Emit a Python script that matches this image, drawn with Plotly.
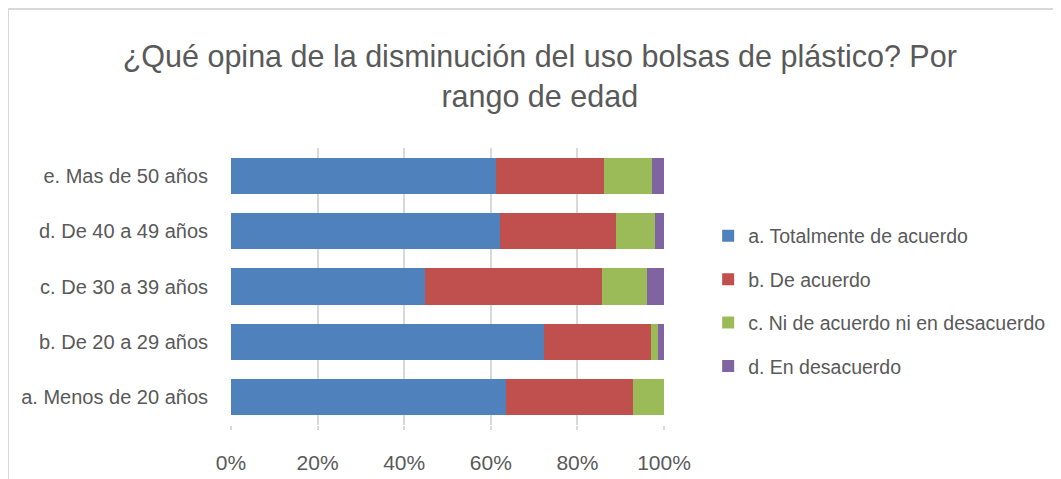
import plotly.graph_objects as go

categorias = [
    "a. Menos de 20 años",
    "b. De 20 a 29 años",
    "c. De 30 a 39 años",
    "d. De 40 a 49 años",
    "e. Mas de 50 años",
]

totalmente_de_acuerdo = [63.4, 72.3, 44.9, 62.2, 61.1]
de_acuerdo = [29.4, 24.7, 40.8, 26.7, 25.1]
ni_acuerdo_ni_desacuerdo = [7.2, 1.5, 10.4, 9.0, 11.1]
en_desacuerdo = [0.0, 1.5, 3.9, 2.1, 2.7]

series = [
    ("a. Totalmente de acuerdo", totalmente_de_acuerdo, "#4f81bd"),
    ("b. De acuerdo", de_acuerdo, "#c0504d"),
    ("c. Ni de acuerdo ni en desacuerdo", ni_acuerdo_ni_desacuerdo, "#9bbb59"),
    ("d. En desacuerdo", en_desacuerdo, "#8064a2"),
]

fuente = "Liberation Sans, Arial, sans-serif"
gris = "#595959"

# la pagina deja 8px de margen en el body
ancho, alto = 1053, 471
izq, arriba, ancho_plot, alto_plot = 223, 140, 433, 277

fig = go.Figure()

for nombre, valores, color in series:
    fig.add_trace(
        go.Bar(
            y=categorias,
            x=[v / 100 for v in valores],
            name=nombre,
            orientation="h",
            legendgroup=nombre,
            marker=dict(color=color, line=dict(width=0)),
        )
    )

fig.update_layout(
    width=ancho,
    height=alto,
    barmode="stack",
    bargap=0.35,
    paper_bgcolor="white",
    plot_bgcolor="white",
    font=dict(family=fuente, color=gris, size=20),
    title=dict(
        text="¿Qué opina de la disminución del uso bolsas de plástico? Por<br>rango de edad",
        x=0.505,
        xanchor="center",
        y=0.874,
        yanchor="middle",
        font=dict(family=fuente, size=30.5, color=gris),
    ),
    margin=dict(
        l=izq,
        r=ancho - izq - ancho_plot,
        t=arriba,
        b=alto - arriba - alto_plot,
        autoexpand=False,
    ),
    legend=dict(
        x=1.102,
        xanchor="left",
        y=0.447,
        yanchor="middle",
        traceorder="grouped",
        tracegroupgap=15,
        font=dict(family=fuente, size=19.5, color=gris),
        itemclick=False,
    ),
    shapes=[
        dict(
            type="rect",
            xref="paper",
            yref="paper",
            x0=(0 - izq) / ancho_plot,
            x1=(ancho + 20 - izq) / ancho_plot,
            y0=-0.4,
            y1=1 + (arriba - 1) / alto_plot,
            line=dict(color="#d9d9d9", width=2),
            fillcolor="rgba(0,0,0,0)",
            layer="below",
        )
    ],
)

fig.update_xaxes(
    range=[0, 1],
    tickformat=".0%",
    dtick=0.2,
    showgrid=True,
    gridcolor="#d9d9d9",
    gridwidth=1.5,
    zeroline=False,
    showline=False,
    ticks="outside",
    ticklen=4,
    tickcolor="#d9d9d9",
    tickwidth=1.5,
    ticklabelstandoff=15,
    tickfont=dict(family=fuente, size=21, color=gris),
)

fig.update_yaxes(
    showgrid=False,
    showline=False,
    ticks="",
    ticklabelstandoff=22,
    tickfont=dict(family=fuente, size=20, color=gris),
)

fig.write_html("out.html")
